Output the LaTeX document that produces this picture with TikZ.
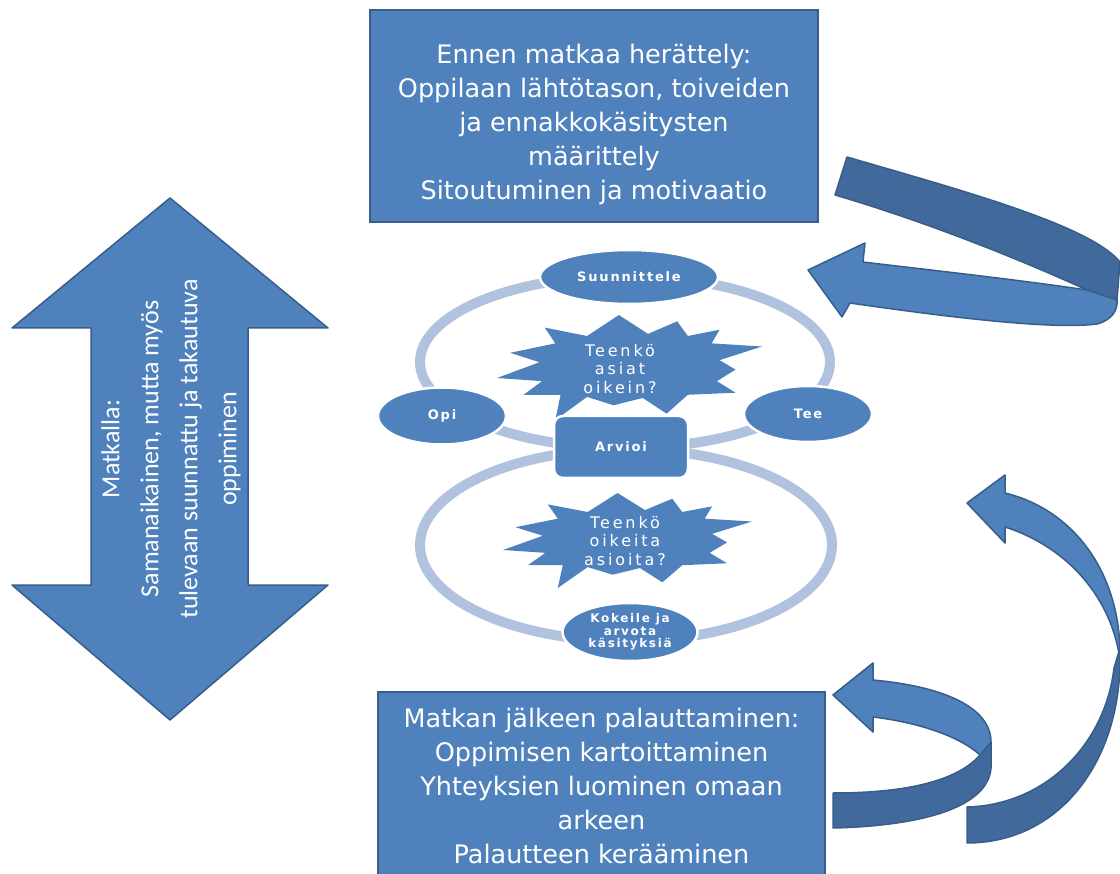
\documentclass[tikz,border=0pt]{standalone}
\usepackage{fontspec}
\setmainfont{DejaVu Sans}
\newfontfamily\boxfont{DejaVu Sans}
\newfontfamily\sidefont{Carlito}
\newfontfamily\cyclefont{DejaVu Sans Bold}[LetterSpace=14]
\newfontfamily\burstfont{DejaVu Sans}[LetterSpace=18]
\usetikzlibrary{shapes.geometric}

\definecolor{nodeblue}{HTML}{4F81BD}
\definecolor{edgeblue}{HTML}{385D8A}
\definecolor{backblue}{HTML}{41699B}
\definecolor{ringblue}{HTML}{B0C2DE}

\tikzset{
  bluebox/.style={rectangle, fill=nodeblue, draw=edgeblue, line width=1.5pt, inner sep=0pt},
  boxtext/.style={text=white, align=center, font=\boxfont\fontsize{25.5}{34}\selectfont},
  ring/.style={draw=ringblue, line width=10pt},
  cyclenode/.style={ellipse, fill=nodeblue, draw=white, line width=2.5pt, inner sep=0pt,
    text=white, align=center, font=\cyclefont\fontsize{13}{13}\selectfont},
  burst/.style={fill=nodeblue},
  bursttext/.style={text=white, align=center, font=\burstfont\fontsize{16}{18.5}\selectfont},
  ribbonfront/.style={fill=nodeblue, draw=edgeblue, line width=1.5pt, line join=round},
  ribbonback/.style={fill=backblue, draw=edgeblue, line width=1.5pt, line join=round},
}

% starburst outline in a unit box (u to the right, v downward)
\newcommand{\burstpath}{(0.46,0.00) -- (0.57,0.18) -- (0.68,0.06) -- (0.72,0.20) -- (0.84,0.14) --
  (0.81,0.27) -- (1.00,0.30) -- (0.84,0.43) -- (0.90,0.52) -- (0.83,0.63) -- (0.90,0.74) --
  (0.72,0.76) -- (0.64,0.94) -- (0.55,0.79) -- (0.44,0.86) -- (0.34,0.78) -- (0.22,1.00) --
  (0.24,0.76) -- (0.10,0.76) -- (0.17,0.63) -- (0.00,0.60) -- (0.16,0.45) -- (0.05,0.36) --
  (0.22,0.27) -- (0.18,0.12) -- (0.34,0.20) -- cycle}

\begin{document}
\begin{tikzpicture}[x=1pt, y=-1pt]
\useasboundingbox (0,0) rectangle (1120,874);
\clip (0,0) rectangle (1120,874);

% two-headed arrow on the left
\draw[ribbonfront] (170,198) -- (328,328) -- (248,328) -- (248,585) -- (328,585) -- (170,720)
  -- (12,585) -- (91,585) -- (91,328) -- (12,328) -- cycle;
\node[rotate=90, text=white, align=center, font=\sidefont\fontsize{26}{39}\selectfont]
  (during) at (171,449) {Matkalla:\\Samanaikainen, mutta myös\\tulevaan suunnattu ja takautuva\\oppiminen};

% the two loops of the cycle
\draw[ring] (625,362) ellipse [x radius=205pt, y radius=86pt];
\draw[ring] (626,545) ellipse [x radius=206pt, y radius=96pt];

% starbursts
\begin{scope}[shift={(497,315)}, x=265pt, y=-105pt]
  \fill[burst] \burstpath;
\end{scope}
\begin{scope}[shift={(503,493)}, x=249pt, y=-95pt]
  \fill[burst] \burstpath;
\end{scope}
\node[bursttext] (q1) at (620,369) {Teenkö\\asiat\\oikein?};
\node[bursttext] (q2) at (625,541) {Teenkö\\oikeita\\asioita?};

% cycle nodes
\node[cyclenode, minimum width=178pt, minimum height=54pt] (plan) at (629,277) {Suunnittele};
\node[cyclenode, minimum width=128pt, minimum height=57pt] (learn) at (442,416) {Opi};
\node[cyclenode, minimum width=128pt, minimum height=56pt] (do) at (808,414) {Tee};
\node[cyclenode, minimum width=135pt, minimum height=58pt,
  font=\cyclefont\fontsize{12}{12.5}\selectfont] (try) at (630,632) {Kokeile ja\\arvota\\käsityksiä};
\node[rectangle, rounded corners=9pt, fill=nodeblue, draw=white, line width=2.5pt,
  minimum width=134pt, minimum height=62pt, text=white,
  font=\cyclefont\fontsize{13}{13}\selectfont] (assess) at (621,447) {Arvioi};

% text boxes
\node[bluebox, minimum width=448pt, minimum height=212pt] (before) at (594,116) {};
\node[boxtext] (beforetext) at (594,124) {Ennen matkaa herättely:\\Oppilaan lähtötason, toiveiden\\ja ennakkokäsitysten\\määrittely\\Sitoutuminen ja motivaatio};
\node[bluebox, minimum width=447pt, minimum height=200pt, anchor=north] (after) at (601.5,691) {};
\node[boxtext] (aftertext) at (601.5,786) {Matkan jälkeen palauttaminen:\\Oppimisen kartoittaminen\\Yhteyksien luominen omaan\\arkeen\\Palautteen kerääminen};

% curved ribbon arrow, upper right
\draw[ribbonback] (847,157) .. controls (960,190) and (1090,225) .. (1120,262) -- (1117,300)
  -- (1087,290) .. controls (1010,255) and (920,220) .. (835,195) -- cycle;
\draw[ribbonfront] (1087,290) .. controls (1020,280) and (930,270) .. (863,262) -- (865,243)
  -- (808,270) -- (842,317) -- (850,303) .. controls (940,316) and (1050,330) .. (1097,324)
  .. controls (1112,320) and (1118,310) .. (1117,300) -- cycle;

% large curved ribbon arrow, lower right
\draw[ribbonback] (1120,648) .. controls (1124,760) and (1060,843) .. (967,843) -- (967,807)
  .. controls (1045,805) and (1105,745) .. (1114,668) -- cycle;
\draw[ribbonfront] (1005,493) .. controls (1075,510) and (1122,575) .. (1120,660)
  .. controls (1112,600) and (1070,548) .. (1005,527) -- (1005,543) -- (967,503) -- (1005,475) -- cycle;

% small curved ribbon arrow beside the lower box
\draw[ribbonback] (980,755) -- (991,742) -- (991,768) .. controls (988,808) and (920,826) .. (833,828)
  -- (833,793) .. controls (915,793) and (960,778) .. (980,755) -- cycle;
\draw[ribbonfront] (873,680) .. controls (940,686) and (991,706) .. (991,742) -- (980,755)
  .. controls (958,735) and (915,722) .. (873,717) -- (873,732) -- (833,695) -- (873,663) -- cycle;
\end{tikzpicture}
\end{document}
